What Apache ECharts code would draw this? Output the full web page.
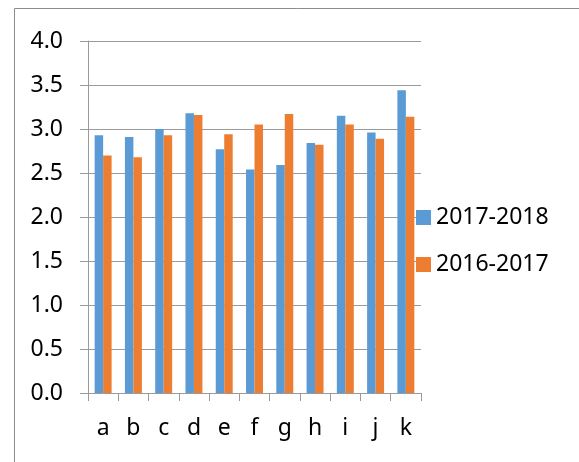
<!DOCTYPE html>
<html>
<head>
<meta charset="utf-8">
<script src="https://cdn.jsdelivr.net/npm/echarts@6/dist/echarts.min.js"></script>
<style>
  html, body { margin: 0; padding: 0; background: #fff; }
  #main { width: 579px; height: 462px; }
</style>
</head>
<body>
<div id="main"></div>
<script>
var categories = ['a', 'b', 'c', 'd', 'e', 'f', 'g', 'h', 'i', 'j', 'k'];
var seriesNames = ['2017-2018', '2016-2017'];
var values2017_2018 = [2.93, 2.91, 3.00, 3.18, 2.77, 2.54, 2.59, 2.84, 3.15, 2.96, 3.44];
var values2016_2017 = [2.70, 2.68, 2.93, 3.16, 2.94, 3.05, 3.17, 2.82, 3.05, 2.89, 3.14];

var chart = echarts.init(document.getElementById('main'), null, { renderer: 'canvas' });
var font = 'Noto Sans';

var option = {
  animation: false,
  color: ['#5B9BD5', '#ED7D31'],
  textStyle: { fontFamily: font },
  graphic: [{
    type: 'rect',
    shape: { x: 14.5, y: 8.5, width: 600, height: 500 },
    style: { fill: 'none', stroke: '#8c8c8c', lineWidth: 1 },
    silent: true
  }],
  legend: {
    orient: 'vertical',
    left: 411,
    top: 201,
    itemWidth: 15,
    itemHeight: 15,
    itemGap: 24,
    icon: 'rect',
    data: seriesNames,
    textStyle: { fontFamily: font, fontSize: 23, color: '#000', lineHeight: 23 }
  },
  grid: { left: 88, right: 158, top: 41, bottom: 69 },
  xAxis: {
    type: 'category',
    data: categories,
    axisLine: { lineStyle: { color: '#9a9a9a', width: 1 } },
    axisTick: { show: true, length: 8, lineStyle: { color: '#9a9a9a' } },
    axisLabel: { color: '#000', fontSize: 23, fontFamily: font, margin: 24, lineHeight: 23 }
  },
  yAxis: {
    type: 'value',
    min: 0,
    max: 4,
    interval: 0.5,
    axisLine: { show: true, lineStyle: { color: '#9a9a9a', width: 1 } },
    axisTick: { show: true, length: 8, lineStyle: { color: '#9a9a9a' } },
    splitLine: { show: true, lineStyle: { color: '#9a9a9a', width: 1 } },
    axisLabel: {
      color: '#000', fontSize: 23, fontFamily: font, margin: 25,
      formatter: function (v) { return v.toFixed(1); }
    }
  },
  series: [
    {
      name: seriesNames[0],
      type: 'bar',
      data: values2017_2018,
      barGap: '0%',
      barCategoryGap: '44%'
    },
    {
      name: seriesNames[1],
      type: 'bar',
      data: values2016_2017,
      barGap: '0%',
      barCategoryGap: '44%'
    }
  ]
};
chart.setOption(option);
</script>
</body>
</html>
